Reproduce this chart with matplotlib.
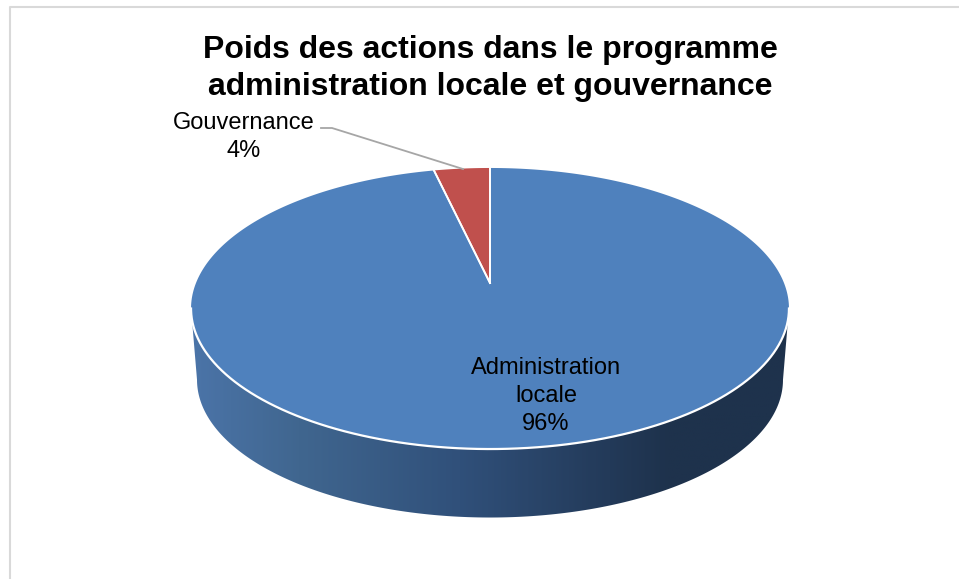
import numpy as np
import matplotlib
matplotlib.use('Agg')
import matplotlib.pyplot as plt
from matplotlib.colors import LinearSegmentedColormap
from matplotlib.patches import Polygon

plt.rcParams['font.family'] = ['Liberation Sans', 'DejaVu Sans']

title = 'Poids des actions dans le programme\nadministration locale et gouvernance'
categories = ['Administration\nlocale', 'Gouvernance']
shares = [96.4, 3.6]
slice_colors = ['#4F81BD', '#C0504D']

# tilted disc, far side shrunk by k
cx, cy = 490, 283
A, B, k = 294, 135.9, 0.1815
depth = 69


def project(theta, scale=1.0, dy=0.0):
    # theta is clockwise from the top of the pie
    x = np.sin(theta)
    y = np.cos(theta)
    w = 1 + k * y
    return cx + scale * A * x / w, cy + dy - scale * B * y / w


fig = plt.figure(figsize=(9.59, 5.79), dpi=100)
ax = fig.add_axes([0, 0, 1, 1])
ax.set_xlim(0, 959)
ax.set_ylim(579, 0)
ax.axis('off')

# frame of the chart, only top and left show
ax.plot([10, 10, 959], [579, 7, 7], color='#D9D9D9', lw=1.5)

# side wall with gradient
# extreme points of the projected circle are a bit past 90 degrees
front = np.arccos(-k) + (2 * np.pi - 2 * np.arccos(-k)) * np.linspace(0, 1, 200)
tx, ty = project(front)
bx, by = project(front, scale=0.98, dy=depth + 2.8)
wall = Polygon(np.r_[np.c_[tx, ty], np.c_[bx, by][::-1]], closed=True,
               transform=ax.transData, fc='none', ec='none')
ax.add_patch(wall)
cmap = LinearSegmentedColormap.from_list(
    'side', [(0, '#4B74A8'), (0.18, '#40668F'), (0.45, '#30507A'),
             (0.70, '#233A59'), (0.80, '#1E324C'), (1, '#1E324C')])
img = ax.imshow(np.linspace(0, 1, 300).reshape(1, -1), cmap=cmap, aspect='auto',
                extent=[191, 789, 530, 300], zorder=1)
img.set_clip_path(wall)
ax.set_xlim(0, 959)
ax.set_ylim(579, 0)

# slices, clockwise from the top
edges = np.r_[0, np.cumsum(shares)] / np.sum(shares) * 2 * np.pi
for i, color in enumerate(slice_colors):
    t = np.linspace(edges[i], edges[i + 1], 400)
    px, py = project(t)
    ax.fill(np.r_[cx, px], np.r_[cy, py], color=color, ec='none', zorder=2)
    # white separators between the slices
    for e in (edges[i], edges[i + 1]):
        ex, ey = project(np.array([e]))
        ax.plot([cx, ex[0]], [cy, ey[0]], color='white', lw=1.3, zorder=3)

# white rim along the front edge
ax.plot(tx, ty, color='white', lw=1.6, zorder=3)

# leader line
ax.plot([321, 332, 463], [128, 128, 169], color='#A6A6A6', lw=1.3, zorder=4)

ax.text(490, 68.5, title, ha='center', va='center', fontsize=23, fontweight='bold',
        linespacing=1.32, color='black')
ax.text(244, 137, f'{categories[1]}\n{shares[1]:.0f}%', ha='center', va='center',
        fontsize=17, linespacing=1.3, color='black', zorder=5)
ax.text(546, 396, f'{categories[0]}\n{shares[0]:.0f}%', ha='center', va='center',
        fontsize=17, linespacing=1.33, color='black', zorder=5)

fig.savefig('out.png', dpi=100)
